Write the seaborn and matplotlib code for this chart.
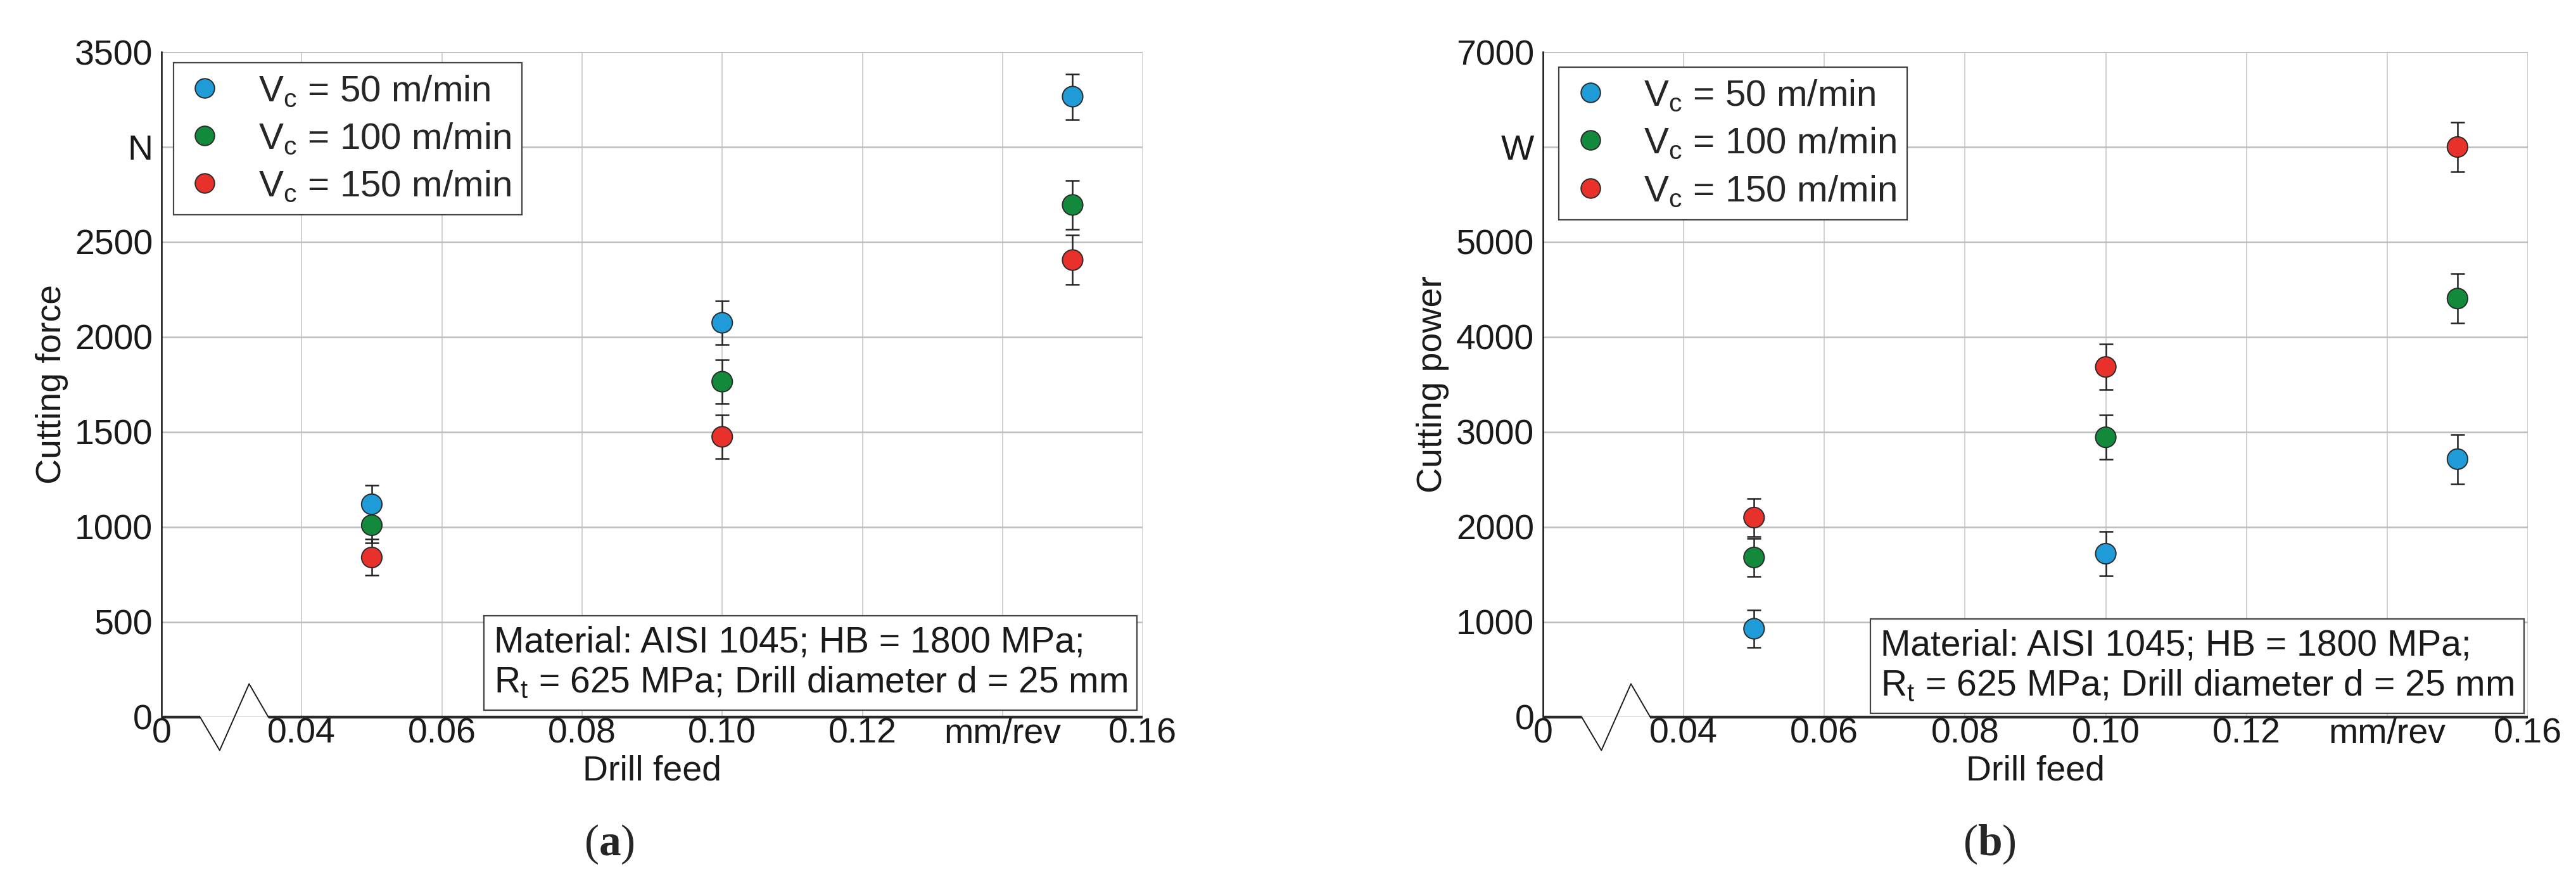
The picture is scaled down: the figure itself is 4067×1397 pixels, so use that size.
import numpy as np
import pandas as pd
import matplotlib
matplotlib.use("Agg")
import matplotlib.pyplot as plt
import matplotlib.transforms as mtransforms
import seaborn as sns

# === DATA ===
feed = [0.05, 0.10, 0.15]
speed_labels = ["50", "100", "150"]

force_50 = [1120, 2075, 3265]
force_100 = [1010, 1765, 2695]
force_150 = [840, 1475, 2405]
force_err_50 = [100, 115, 120]
force_err_100 = [95, 115, 130]
force_err_150 = [95, 115, 130]

power_50 = [930, 1720, 2715]
power_100 = [1680, 2945, 4405]
power_150 = [2100, 3685, 6000]
power_err_50 = [195, 235, 260]
power_err_100 = [200, 235, 260]
power_err_150 = [200, 240, 260]

x_ticks = [0, 0.04, 0.06, 0.08, 0.10, 0.12, 0.14, 0.16]
x_ticklabels = ["0", "0.04", "0.06", "0.08", "0.10", "0.12", "mm/rev", "0.16"]
force_ticks = [0, 500, 1000, 1500, 2000, 2500, 3000, 3500]
force_ticklabels = ["0", "500", "1000", "1500", "2000", "2500", "N", "3500"]
power_ticks = [0, 1000, 2000, 3000, 4000, 5000, 6000, 7000]
power_ticklabels = ["0", "1000", "2000", "3000", "4000", "5000", "W", "7000"]

note = "Material: AISI 1045; HB = 1800 MPa;\nR$_\\mathregular{t}$ = 625 MPa; Drill diameter d = 25 mm"
colors = ["#1f9bd7", "#13893c", "#e8312b"]

# === STYLE ===
sns.set_theme(style="whitegrid")
plt.rcParams["font.family"] = ["Liberation Sans", "DejaVu Sans"]
plt.rcParams["mathtext.fontset"] = "custom"
plt.rcParams["mathtext.rm"] = "Liberation Sans"
plt.rcParams["mathtext.bf"] = "Liberation Serif:bold"
FS = 40


def make_df(vals, errs):
    rows = []
    for sp, v, e in zip(speed_labels, vals, errs):
        for f, vi, ei in zip(feed, v, e):
            rows.append({"feed": f, "value": vi, "err": ei, "speed": sp})
    return pd.DataFrame(rows)


def fwd(x):
    x = np.asarray(x, dtype=float)
    return np.where(x < 0.04, x / 2, x - 0.02)


def inv(y):
    y = np.asarray(y, dtype=float)
    return np.where(y < 0.02, y * 2, y + 0.02)


def draw_panel(ax, df, yticks, yticklabels, ylabel, legend_anchor, note_xy):
    ax.set_xscale("function", functions=(fwd, inv))
    ax.errorbar(df["feed"], df["value"], yerr=df["err"], fmt="none",
                ecolor="#222222", elinewidth=1.8, capsize=8, capthick=1.8, zorder=3)
    sns.scatterplot(data=df, x="feed", y="value", hue="speed", palette=colors,
                    s=540, edgecolor="#2b2b2b", linewidth=1.4, ax=ax, zorder=4)
    ax.set_xlim(0, 0.16)
    ax.set_ylim(yticks[0], yticks[-1])
    ax.set_xticks(x_ticks)
    ax.set_xticklabels(x_ticklabels)
    ax.set_yticks(yticks)
    ax.set_yticklabels(yticklabels)
    ax.tick_params(axis="both", length=0, labelsize=FS, colors="#1a1a1a")
    ax.tick_params(axis="x", pad=0.5)
    ax.tick_params(axis="y", pad=10)
    ax.grid(True, axis="x", color="#c4c4c4", lw=1.1)
    ax.grid(True, axis="y", color="#bdbdbd", lw=1.8)
    for s in ["top", "right", "bottom"]:
        ax.spines[s].set_visible(False)
    ax.spines["left"].set_color("#111111")
    ax.spines["left"].set_linewidth(1.8)

    ax.set_xlabel("Drill feed", fontsize=FS, color="#1a1a1a")
    ax.set_ylabel(ylabel, fontsize=FS, color="#1a1a1a")
    ax.xaxis.set_label_coords(0.5, -0.057)
    ax.yaxis.set_label_coords(-0.095, 0.5)

    # broken x axis line with zigzag
    tr = mtransforms.blended_transform_factory(ax.transData, ax.transAxes)
    ax.plot([0, 0.011], [0, 0], color="#2a2a2a", lw=3.2, transform=tr, clip_on=False, zorder=5,
            solid_capstyle="butt")
    ax.plot([0.0305, 0.16], [0, 0], color="#2a2a2a", lw=3.2, transform=tr, clip_on=False, zorder=5,
            solid_capstyle="butt")
    ax.plot([0.011, 0.0166, 0.025, 0.0305], [0, -0.05, 0.05, 0], color="#1a1a1a", lw=1.4,
            transform=tr, clip_on=False, zorder=5)

    handles, _ = ax.get_legend_handles_labels()
    labels = ["V$_\\mathregular{c}$ = %s m/min" % s for s in speed_labels]
    leg = ax.legend(handles, labels, loc="upper left", bbox_to_anchor=legend_anchor,
                    borderaxespad=0, fontsize=42, frameon=True, fancybox=False,
                    labelspacing=0.35, handletextpad=0.9, borderpad=0.3, handlelength=1.1)
    leg.get_frame().set_edgecolor("#444444")
    leg.get_frame().set_linewidth(1.6)
    leg.get_frame().set_alpha(1)
    for h in leg.legend_handles:
        h.set_markersize(22)
        h.set_markeredgecolor("#2b2b2b")

    ax.text(note_xy[0], note_xy[1], note, transform=ax.transAxes, ha="right", va="bottom",
            multialignment="left", fontsize=41, color="#1a1a1a", linespacing=1.2, zorder=6,
            bbox=dict(boxstyle="square,pad=0.28", fc="white", ec="#444444", lw=1.6))


fig = plt.figure(figsize=(40.67, 13.97), dpi=100)
ax1 = fig.add_axes([0.0627, 0.1897, 0.3809, 0.7516])
ax2 = fig.add_axes([0.5990, 0.1897, 0.3823, 0.7516])

df_force = make_df([force_50, force_100, force_150], [force_err_50, force_err_100, force_err_150])
df_power = make_df([power_50, power_100, power_150], [power_err_50, power_err_100, power_err_150])

draw_panel(ax1, df_force, force_ticks, force_ticklabels, "Cutting force", (0.012, 0.984), (0.984, 0.026))
draw_panel(ax2, df_power, power_ticks, power_ticklabels, "Cutting power", (0.016, 0.977), (0.986, 0.021))

fig.text(962 / 4067, 1 - 1333 / 1397, "($\\mathbf{a}$)", fontsize=50, family="Liberation Serif",
         ha="center", va="center")
fig.text(3141 / 4067, 1 - 1333 / 1397, "($\\mathbf{b}$)", fontsize=50, family="Liberation Serif",
         ha="center", va="center")

fig.savefig("out.png", dpi=100, facecolor="white")
